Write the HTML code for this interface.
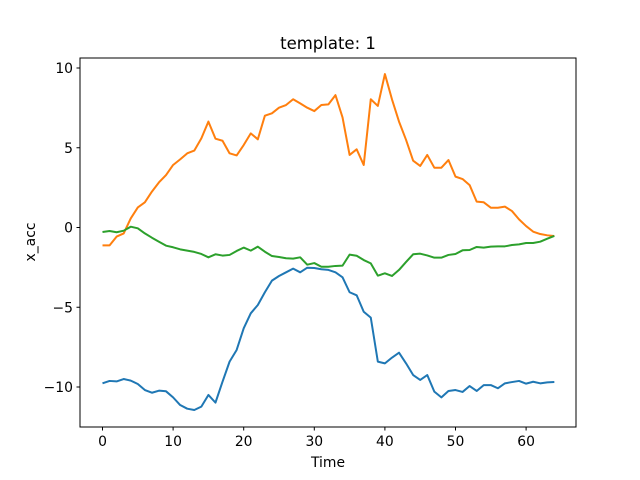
<!DOCTYPE html>
<html><head><meta charset="utf-8"><style>
body{margin:0;background:#fff;}
svg{display:block;font-family:"DejaVu Sans","Liberation Sans",sans-serif;}
</style></head><body>
<svg id="chart" width="640" height="480">
<rect x="0" y="0" width="640" height="480" fill="#fff"/>
<g id="plot"></g>
<rect x="80" y="58" width="496" height="369" fill="none" stroke="#000" stroke-width="1"/>
<text x="328" y="49" font-size="16.5" text-anchor="middle">template: 1</text>
<text x="328" y="467" font-size="13.9" text-anchor="middle">Time</text>
<text x="35" y="242" font-size="13.9" text-anchor="middle" transform="rotate(-90 35 242)">x_acc</text>
</svg>
<script>
const xTicks=[0,10,20,30,40,50,60];
const yTicks=[10,5,0,-5,-10];
const seriesBlue=[-9.77,-9.62,-9.65,-9.5,-9.6,-9.81,-10.19,-10.36,-10.23,-10.27,-10.65,-11.13,-11.36,-11.44,-11.23,-10.5,-10.98,-9.67,-8.41,-7.68,-6.32,-5.38,-4.86,-4.06,-3.33,-3.04,-2.81,-2.58,-2.81,-2.52,-2.54,-2.62,-2.66,-2.81,-3.12,-4.06,-4.25,-5.28,-5.65,-8.41,-8.52,-8.16,-7.85,-8.52,-9.25,-9.56,-9.25,-10.29,-10.65,-10.25,-10.19,-10.31,-9.94,-10.25,-9.88,-9.88,-10.08,-9.77,-9.69,-9.62,-9.79,-9.67,-9.77,-9.71,-9.69];
const seriesOrange=[-1.12,-1.12,-0.57,-0.37,0.57,1.26,1.58,2.25,2.83,3.29,3.92,4.27,4.65,4.82,5.59,6.64,5.57,5.44,4.65,4.52,5.17,5.9,5.53,7.01,7.16,7.51,7.68,8.04,7.78,7.51,7.3,7.68,7.72,8.3,6.9,4.55,4.9,3.92,8.04,7.62,9.62,8.04,6.64,5.49,4.19,3.86,4.55,3.75,3.75,4.23,3.19,3.04,2.66,1.62,1.58,1.24,1.24,1.31,1.03,0.51,0.09,-0.26,-0.41,-0.49,-0.53];
const seriesGreen=[-0.28,-0.22,-0.3,-0.2,0.05,-0.05,-0.37,-0.64,-0.89,-1.14,-1.24,-1.37,-1.45,-1.53,-1.66,-1.87,-1.68,-1.76,-1.72,-1.47,-1.26,-1.45,-1.2,-1.52,-1.79,-1.85,-1.93,-1.95,-1.87,-2.33,-2.23,-2.46,-2.46,-2.41,-2.39,-1.7,-1.77,-2.04,-2.25,-3.02,-2.87,-3.04,-2.66,-2.16,-1.68,-1.64,-1.75,-1.89,-1.89,-1.72,-1.66,-1.43,-1.41,-1.22,-1.26,-1.2,-1.18,-1.18,-1.1,-1.06,-0.97,-0.97,-0.89,-0.7,-0.53];
const NS='http://www.w3.org/2000/svg';
const xs=v=>102.5+v*7.06;
const ys=v=>227.5-v*15.95;
const g=document.getElementById('plot');
function mk(t,a){const e=document.createElementNS(NS,t);for(const k in a)e.setAttribute(k,a[k]);return e;}
xTicks.forEach(t=>{
  const l=mk('line',{x1:xs(t),x2:xs(t),y1:427,y2:430.5,stroke:'#000'});
  
  
  g.appendChild(l);
  const tx=mk('text',{x:xs(t),y:446,'font-size':13.9,'text-anchor':'middle'});
  
  
  tx.textContent=t;g.appendChild(tx);
});
yTicks.forEach(t=>{
  const l=mk('line',{x1:76.5,x2:80,y1:ys(t),y2:ys(t),stroke:'#000'});
  
  
  g.appendChild(l);
  const tx=mk('text',{x:73,y:ys(t)+5,'font-size':13.9,'text-anchor':'end'});
  
  
  tx.textContent=t<0?'\u2212'+(-t):t;g.appendChild(tx);
});
function line(data,color,name){
  const p=mk('polyline',{points:data.map((v,i)=>xs(i)+','+ys(v)).join(' '),fill:'none',stroke:color,'stroke-width':2,'stroke-linejoin':'round'});
  
  
  g.appendChild(p);
}
line(seriesBlue,'#1f77b4','series-blue-line');
line(seriesOrange,'#ff7f0e','series-orange-line');
line(seriesGreen,'#2ca02c','series-green-line');
</script>
</body></html>
